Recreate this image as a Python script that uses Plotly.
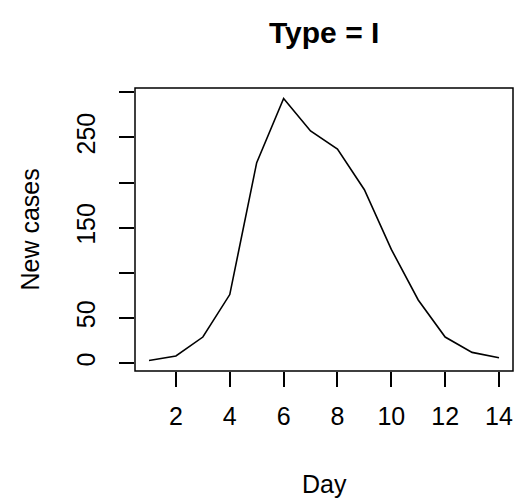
import plotly.graph_objects as go

days = list(range(1, 15))
new_cases = [3, 8, 29, 76, 222, 293, 257, 237, 192, 126, 70, 29, 12, 6]
x_ticks = [2, 4, 6, 8, 10, 12, 14]
y_ticks = [0, 50, 100, 150, 200, 250, 300]
y_tick_labels = ["0", "50", "", "150", "", "250", ""]
title_text = "Type = I"
x_label = "Day"
y_label = "New cases"

FONT = "Liberation Sans, Arial, sans-serif"
FS = 25

fig = go.Figure()
fig.add_trace(go.Scatter(x=days, y=new_cases, mode="lines",
                         line=dict(color="black", width=1.6),
                         hoverinfo="skip", showlegend=False))

fig.update_layout(
    width=518, height=502,
    margin=dict(l=135, r=5, t=88, b=131, pad=0),
    paper_bgcolor="white", plot_bgcolor="white",
    font=dict(family=FONT, size=FS, color="black"),
    showlegend=False,
)
fig.update_xaxes(range=[0.48, 14.52], tickvals=x_ticks, ticks="outside",
                 ticklen=15, tickwidth=1.5, tickcolor="black",
                 showgrid=False, zeroline=False, showline=False,
                 ticklabelstandoff=8,
                 tickfont=dict(family=FONT, size=FS, color="black"))
fig.update_yaxes(range=[-8.6, 304.6], tickvals=y_ticks, ticktext=y_tick_labels,
                 ticks="outside", ticklen=15, tickwidth=1.5, tickcolor="black",
                 tickangle=-90, showgrid=False, zeroline=False, showline=False,
                 ticklabelstandoff=14,
                 tickfont=dict(family=FONT, size=FS, color="black"))

fig.add_shape(type="rect", xref="paper", yref="paper", x0=0, x1=1, y0=0, y1=1,
              line=dict(color="black", width=1.5), fillcolor="rgba(0,0,0,0)")

fig.add_annotation(text="<b>%s</b>" % title_text, xref="paper", yref="paper",
                   x=0.5, y=1, yshift=56, xanchor="center", yanchor="middle",
                   showarrow=False, font=dict(family=FONT, size=30, color="black"))
fig.add_annotation(text=x_label, xref="paper", yref="paper",
                   x=0.5, y=0, yshift=-113, xanchor="center", yanchor="middle",
                   showarrow=False, font=dict(family=FONT, size=FS, color="black"))
fig.add_annotation(text=y_label, xref="paper", yref="paper",
                   x=0, y=0.5, xshift=-106, xanchor="center", yanchor="middle",
                   textangle=-90, showarrow=False,
                   font=dict(family=FONT, size=FS, color="black"))

fig.write_html("out.html", config={"displayModeBar": False},
               post_script="document.body.style.margin='0px';")
